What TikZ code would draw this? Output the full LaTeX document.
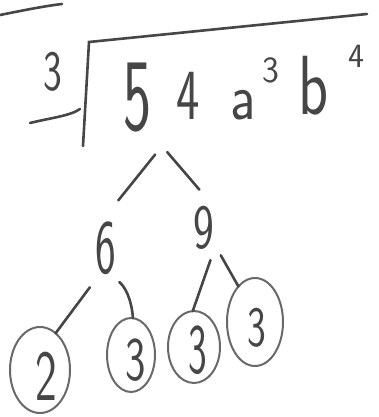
\documentclass[tikz,border=0pt]{standalone}
\usepackage{graphicx}
\usetikzlibrary{shapes.geometric}
\definecolor{pencil}{RGB}{70,70,70}
\definecolor{softpencil}{RGB}{105,105,105}
\newcommand{\hand}[3]{\fontsize{#1}{#1}\selectfont\scalebox{#2}[1]{#3}}

\begin{document}
\begin{tikzpicture}[x=1pt, y=-1pt,
    pen/.style={line width=2.6pt, pencil, line cap=round},
    glyph/.style={inner sep=0pt, outer sep=0pt, text=pencil, font=\sffamily},
    ring/.style={draw=softpencil, line width=2pt, ellipse, inner sep=0pt, outer sep=0pt}]
    \useasboundingbox (0,0) rectangle (379,417);
    % stroke left over at the top
    \draw[pen] (0,15) .. controls (25,10) and (45,6) .. (62,4);
    % radical sign
    \node[glyph] (index) at (53,72) {\hand{57}{0.7}{3}};
    \draw[pen] (30,123) .. controls (50,118) and (70,116) .. (80,109);
    \draw[pen] (83,146) -- (89,42) -- (367,14);
    % radicand
    \node[glyph] (five) at (138,98) {\hand{103}{0.58}{5}};
    \node[glyph] (four) at (188,96) {\hand{72}{0.69}{4}};
    \node[glyph] (avar) at (243,105) {\hand{66}{0.85}{a}};
    \node[glyph] (aexp) at (271,70) {\hand{37}{0.97}{3}};
    \node[glyph] (bvar) at (314,86) {\hand{84}{0.74}{b}};
    \node[glyph] (bexp) at (356,56) {\hand{34}{1}{4}};
    \coordinate (apex) at (162,146);
    % first split
    \node[glyph] (six) at (106,248) {\hand{77}{0.57}{6}};
    \node[glyph] (nine) at (204,228) {\hand{63}{0.7}{9}};
    \draw[pen, shorten <=11pt, shorten >=27pt] (apex) -- (six.100);
    \draw[pen, shorten <=8pt, shorten >=22pt] (apex) -- (nine.66);
    % circled primes
    \node[ring, minimum width=60pt, minimum height=86pt] (f2) at (40,370) {};
    \node[ring, minimum width=48pt, minimum height=74pt] (f3a) at (131,355) {};
    \node[ring, minimum width=52pt, minimum height=72pt] (f3b) at (194,347) {};
    \node[ring, minimum width=56pt, minimum height=88pt] (f3c) at (255,322) {};
    \node[glyph] (d2) at (46,376) {\hand{72}{0.64}{2}};
    \node[glyph] (d3a) at (136,360) {\hand{62}{0.7}{3}};
    \node[glyph] (d3b) at (198,350) {\hand{71}{0.56}{3}};
    \node[glyph] (d3c) at (257,328) {\hand{57}{0.7}{3}};
    \draw[pen, shorten <=16pt] (six.256) -- (f2.67);
    \draw[pen, shorten <=13pt] (six.276) to[bend left=25] (f3a.87);
    \draw[pen, shorten <=11pt] (nine.295) -- (f3b.92);
    \draw[pen, shorten <=13pt] (nine.303) -- (f3c.115);
\end{tikzpicture}
\end{document}
